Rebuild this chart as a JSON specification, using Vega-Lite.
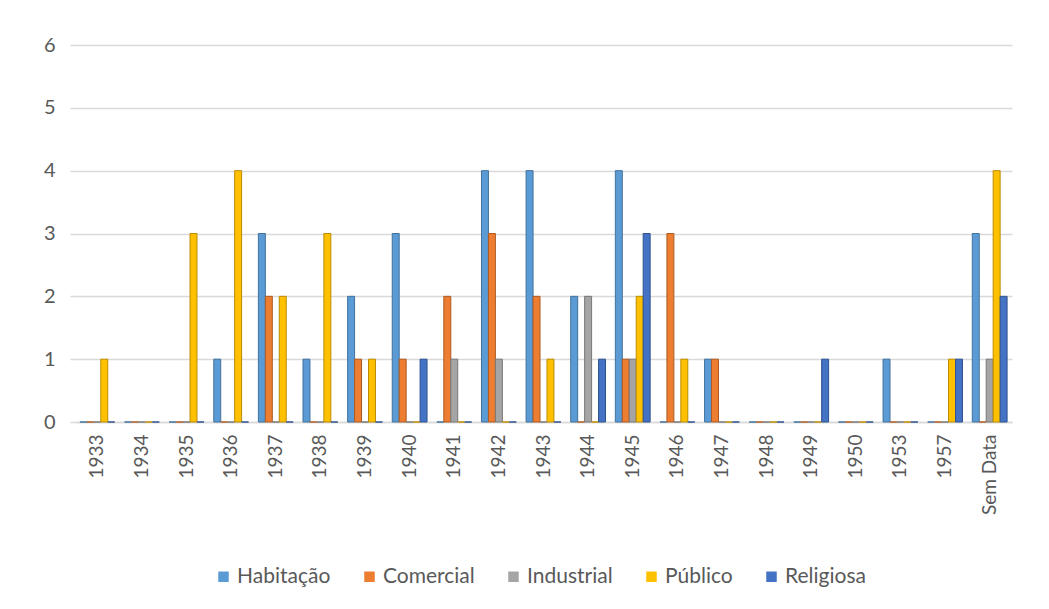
{
  "$schema": "https://vega.github.io/schema/vega-lite/v6.json",
  "width": 937,
  "height": 377,
  "autosize": {"type": "none"},
  "padding": {"left": 75, "top": 45, "right": 37, "bottom": 187},
  "background": "white",
  "config": {
    "font": "Lato",
    "view": {"stroke": null}
  },
  "data": {"values": [
    {"ano":"1933","tipo":"Habitação","valor":0},{"ano":"1933","tipo":"Comercial","valor":0},{"ano":"1933","tipo":"Industrial","valor":0},{"ano":"1933","tipo":"Público","valor":1},{"ano":"1933","tipo":"Religiosa","valor":0},
    {"ano":"1934","tipo":"Habitação","valor":0},{"ano":"1934","tipo":"Comercial","valor":0},{"ano":"1934","tipo":"Industrial","valor":0},{"ano":"1934","tipo":"Público","valor":0},{"ano":"1934","tipo":"Religiosa","valor":0},
    {"ano":"1935","tipo":"Habitação","valor":0},{"ano":"1935","tipo":"Comercial","valor":0},{"ano":"1935","tipo":"Industrial","valor":0},{"ano":"1935","tipo":"Público","valor":3},{"ano":"1935","tipo":"Religiosa","valor":0},
    {"ano":"1936","tipo":"Habitação","valor":1},{"ano":"1936","tipo":"Comercial","valor":0},{"ano":"1936","tipo":"Industrial","valor":0},{"ano":"1936","tipo":"Público","valor":4},{"ano":"1936","tipo":"Religiosa","valor":0},
    {"ano":"1937","tipo":"Habitação","valor":3},{"ano":"1937","tipo":"Comercial","valor":2},{"ano":"1937","tipo":"Industrial","valor":0},{"ano":"1937","tipo":"Público","valor":2},{"ano":"1937","tipo":"Religiosa","valor":0},
    {"ano":"1938","tipo":"Habitação","valor":1},{"ano":"1938","tipo":"Comercial","valor":0},{"ano":"1938","tipo":"Industrial","valor":0},{"ano":"1938","tipo":"Público","valor":3},{"ano":"1938","tipo":"Religiosa","valor":0},
    {"ano":"1939","tipo":"Habitação","valor":2},{"ano":"1939","tipo":"Comercial","valor":1},{"ano":"1939","tipo":"Industrial","valor":0},{"ano":"1939","tipo":"Público","valor":1},{"ano":"1939","tipo":"Religiosa","valor":0},
    {"ano":"1940","tipo":"Habitação","valor":3},{"ano":"1940","tipo":"Comercial","valor":1},{"ano":"1940","tipo":"Industrial","valor":0},{"ano":"1940","tipo":"Público","valor":0},{"ano":"1940","tipo":"Religiosa","valor":1},
    {"ano":"1941","tipo":"Habitação","valor":0},{"ano":"1941","tipo":"Comercial","valor":2},{"ano":"1941","tipo":"Industrial","valor":1},{"ano":"1941","tipo":"Público","valor":0},{"ano":"1941","tipo":"Religiosa","valor":0},
    {"ano":"1942","tipo":"Habitação","valor":4},{"ano":"1942","tipo":"Comercial","valor":3},{"ano":"1942","tipo":"Industrial","valor":1},{"ano":"1942","tipo":"Público","valor":0},{"ano":"1942","tipo":"Religiosa","valor":0},
    {"ano":"1943","tipo":"Habitação","valor":4},{"ano":"1943","tipo":"Comercial","valor":2},{"ano":"1943","tipo":"Industrial","valor":0},{"ano":"1943","tipo":"Público","valor":1},{"ano":"1943","tipo":"Religiosa","valor":0},
    {"ano":"1944","tipo":"Habitação","valor":2},{"ano":"1944","tipo":"Comercial","valor":0},{"ano":"1944","tipo":"Industrial","valor":2},{"ano":"1944","tipo":"Público","valor":0},{"ano":"1944","tipo":"Religiosa","valor":1},
    {"ano":"1945","tipo":"Habitação","valor":4},{"ano":"1945","tipo":"Comercial","valor":1},{"ano":"1945","tipo":"Industrial","valor":1},{"ano":"1945","tipo":"Público","valor":2},{"ano":"1945","tipo":"Religiosa","valor":3},
    {"ano":"1946","tipo":"Habitação","valor":0},{"ano":"1946","tipo":"Comercial","valor":3},{"ano":"1946","tipo":"Industrial","valor":0},{"ano":"1946","tipo":"Público","valor":1},{"ano":"1946","tipo":"Religiosa","valor":0},
    {"ano":"1947","tipo":"Habitação","valor":1},{"ano":"1947","tipo":"Comercial","valor":1},{"ano":"1947","tipo":"Industrial","valor":0},{"ano":"1947","tipo":"Público","valor":0},{"ano":"1947","tipo":"Religiosa","valor":0},
    {"ano":"1948","tipo":"Habitação","valor":0},{"ano":"1948","tipo":"Comercial","valor":0},{"ano":"1948","tipo":"Industrial","valor":0},{"ano":"1948","tipo":"Público","valor":0},{"ano":"1948","tipo":"Religiosa","valor":0},
    {"ano":"1949","tipo":"Habitação","valor":0},{"ano":"1949","tipo":"Comercial","valor":0},{"ano":"1949","tipo":"Industrial","valor":0},{"ano":"1949","tipo":"Público","valor":0},{"ano":"1949","tipo":"Religiosa","valor":1},
    {"ano":"1950","tipo":"Habitação","valor":0},{"ano":"1950","tipo":"Comercial","valor":0},{"ano":"1950","tipo":"Industrial","valor":0},{"ano":"1950","tipo":"Público","valor":0},{"ano":"1950","tipo":"Religiosa","valor":0},
    {"ano":"1953","tipo":"Habitação","valor":1},{"ano":"1953","tipo":"Comercial","valor":0},{"ano":"1953","tipo":"Industrial","valor":0},{"ano":"1953","tipo":"Público","valor":0},{"ano":"1953","tipo":"Religiosa","valor":0},
    {"ano":"1957","tipo":"Habitação","valor":0},{"ano":"1957","tipo":"Comercial","valor":0},{"ano":"1957","tipo":"Industrial","valor":0},{"ano":"1957","tipo":"Público","valor":1},{"ano":"1957","tipo":"Religiosa","valor":1},
    {"ano":"Sem Data","tipo":"Habitação","valor":3},{"ano":"Sem Data","tipo":"Comercial","valor":0},{"ano":"Sem Data","tipo":"Industrial","valor":1},{"ano":"Sem Data","tipo":"Público","valor":4},{"ano":"Sem Data","tipo":"Religiosa","valor":2}
  ]},
  "mark": {"type": "bar", "strokeWidth": 1},
  "encoding": {
    "x": {
      "field": "ano", "type": "nominal", "sort": null,
      "scale": {"paddingInner": 0.22, "paddingOuter": 0.11},
      "axis": {"title": null, "labelAngle": -90, "labelPadding": 12, "labelFont": "Lato", "labelFontSize": 19, "labelColor": "#595959", "labelLimit": 200, "ticks": false, "domain": true, "domainColor": "#D9D9D9", "domainWidth": 1.5, "grid": false}
    },
    "xOffset": {"field": "tipo", "type": "nominal", "sort": ["Habitação","Comercial","Industrial","Público","Religiosa"], "scale": {"paddingInner": 0, "paddingOuter": 0}},
    "y": {
      "field": "valor", "type": "quantitative",
      "scale": {"domain": [0, 6]},
      "axis": {"title": null, "values": [0,1,2,3,4,5,6], "labelFont": "Lato", "labelFontSize": 20, "labelColor": "#595959", "domain": false, "ticks": true, "tickSize": 5, "tickColor": "#D9D9D9", "tickWidth": 1.5, "gridColor": "#D9D9D9", "gridWidth": 1.5, "labelPadding": 15}
    },
    "color": {
      "field": "tipo", "type": "nominal",
      "sort": ["Habitação","Comercial","Industrial","Público","Religiosa"],
      "scale": {"domain": ["Habitação","Comercial","Industrial","Público","Religiosa"], "range": ["#5B9BD5","#ED7D31","#A5A5A5","#FFC000","#4472C4"]},
      "legend": {"title": null, "orient": "none", "direction": "horizontal", "legendX": 138, "legendY": 521, "symbolType": "square", "symbolSize": 110, "symbolStrokeWidth": 0, "labelFont": "Lato", "labelFontSize": 21, "labelColor": "#595959", "labelOffset": 3, "columnPadding": 28}
    },
    "stroke": {
      "field": "tipo", "type": "nominal",
      "scale": {"domain": ["Habitação","Comercial","Industrial","Público","Religiosa"], "range": ["#41719C","#AE5A21","#787878","#BC8C00","#2F528F"]},
      "legend": null
    }
  }
}
